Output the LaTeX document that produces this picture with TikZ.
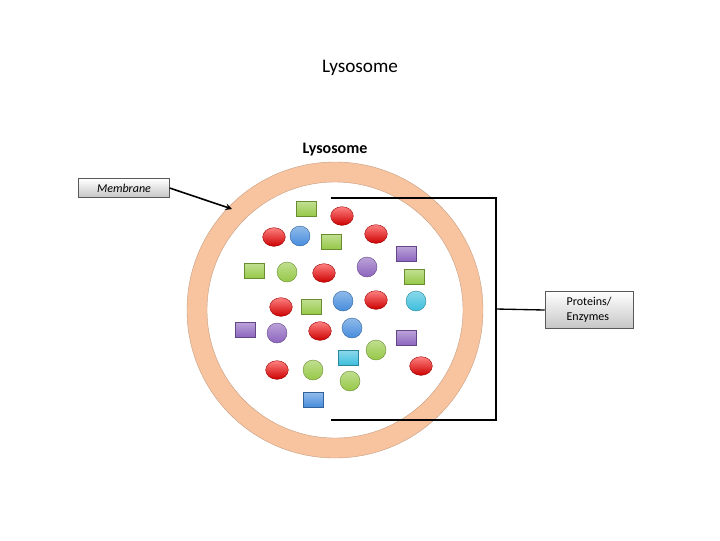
\documentclass[tikz,border=0pt]{standalone}
\usepackage{fontspec}
\setmainfont{Carlito}
\usetikzlibrary{shapes.geometric}
\begin{document}
\begin{tikzpicture}[x=0.75pt,y=-0.75pt,
 sq/.style={rectangle,minimum width=15pt,minimum height=11pt,inner sep=0pt,draw=#1!70!black,top color=#1!60!white,bottom color=#1,line width=0.3pt},
 ci/.style={circle,minimum size=15pt,inner sep=0pt,draw=#1!70!black,top color=#1!60!white,bottom color=#1,line width=0.3pt},
 el/.style={ellipse,minimum width=17pt,minimum height=14pt,inner sep=0pt,draw=red!60!black,top color=red!50!white,bottom color=red!80!black,line width=0.3pt},
 lbl/.style={draw=gray!70!black,top color=white,bottom color=gray!45,inner sep=2pt,align=left,font=\small\itshape}]
\useasboundingbox (0,0) rectangle (720,540);
\definecolor{ring}{RGB}{248,196,160}
\definecolor{gr}{RGB}{150,200,70}
\definecolor{bl}{RGB}{70,140,220}
\definecolor{pu}{RGB}{140,100,190}
\definecolor{cy}{RGB}{60,190,220}
\node (title) at (360,68) {\Large Lysosome};
\node[font=\large\bfseries] (head) at (335,150) {Lysosome};
\path[fill=ring,draw=ring!80!black,even odd rule,line width=0.3pt] (335,310) circle[radius=148] (335,310) circle[radius=128];
\foreach \p [count=\i] in {(306,209),(331,242),(254,271),(414,277),(311,307)} \node[sq=gr] (g\i) at \p {};
\foreach \p [count=\i] in {(406,254),(245,330),(406,338)} \node[sq=pu] (p\i) at \p {};
\node[sq=cy] (cs) at (348,358) {};
\node[sq=bl] (bs) at (313,400) {};
\foreach \p [count=\i] in {(300,236),(343,301),(352,328)} \node[ci=bl] (b\i) at \p {};
\foreach \p [count=\i] in {(367,267),(277,333)} \node[ci=pu] (pc\i) at \p {};
\foreach \p [count=\i] in {(287,272),(376,350),(313,370),(350,381)} \node[ci=gr] (gc\i) at \p {};
\node[ci=cy] (cc) at (416,301) {};
\foreach \p [count=\i] in {(342,216),(274,237),(376,234),(324,273),(281,307),(376,300),(320,331),(277,370),(421,366)} \node[el] (r\i) at \p {};
\coordinate (t) at (331,198); \coordinate (tr) at (496,198);
\coordinate (b) at (331,420); \coordinate (br) at (496,420);
\coordinate (m) at (496,309);
\draw[line width=1pt] (t) -- (tr) -- (br) -- (b);
\node[lbl,font=\small,minimum width=66pt,minimum height=28pt] (prot) at (589,310) {Proteins/\\Enzymes};
\draw[line width=1pt] (m) -- (prot.west);
\node[lbl,minimum width=68pt,minimum height=14pt] (mem) at (124,188) {Membrane};
\coordinate (mt) at (232,209);
\draw[line width=1.2pt,-stealth] (mem.east) -- (mt);
\end{tikzpicture}
\end{document}
